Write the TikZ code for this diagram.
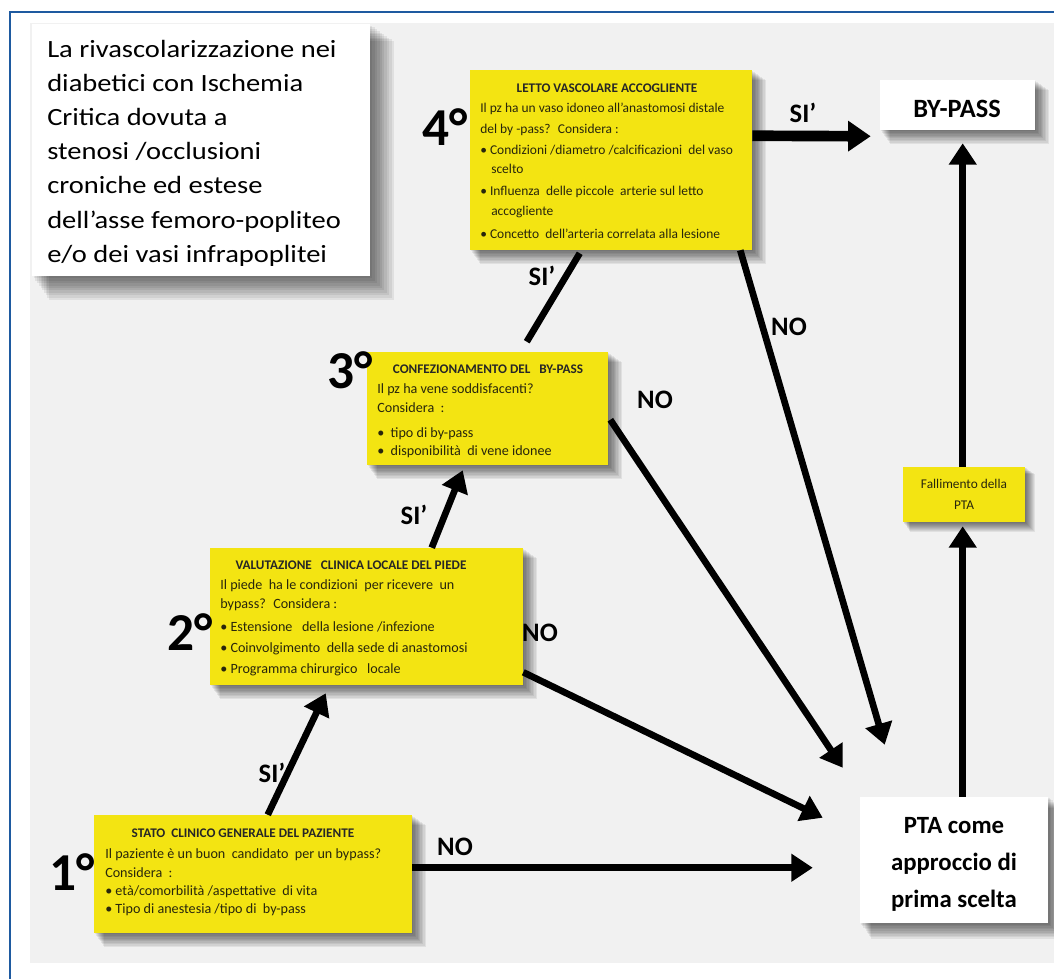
\documentclass[tikz,border=0pt]{standalone}
\usepackage{fontspec}
\setmainfont{Carlito}
\newfontfamily\widefont[FakeStretch=1.15]{Carlito}
\usetikzlibrary{arrows.meta,calc,fit}
\definecolor{bggray}{RGB}{241,241,241}
\definecolor{frameblue}{RGB}{30,90,160}
\definecolor{yel}{RGB}{243,228,18}
\definecolor{ytext}{RGB}{40,38,12}
\newcommand{\boxshadow}[5]{%
  \foreach \k in {1,...,10}{%
    \fill[black,opacity=0.065] ({#1+#5*\k/14},{#2+#5*\k/14}) rectangle ({#3+#5*\k/10},{#4+#5*\k/10});
  }}
\begin{document}
\begin{tikzpicture}[x=0.75pt,y=-0.75pt,
  ybox/.style={fill=yel,draw=none,inner sep=0pt},
  wbox/.style={fill=white,draw=none,inner sep=0pt},
  ytxt/.style={anchor=base west,inner sep=0pt,text=ytext,font=\fontsize{10.6}{12}\selectfont},
  ytxtb/.style={ytxt,font=\fontsize{10.1}{12}\selectfont},
  ytitle/.style={anchor=base,inner sep=0pt,text=black!85,font=\fontsize{9.9}{11}\bfseries\selectfont},
  lbl/.style={anchor=center,inner sep=0pt,font=\fontsize{20}{21}\bfseries\selectfont},
  deg/.style={anchor=center,inner sep=0pt,font=\fontsize{40}{42}\bfseries\selectfont},
  arr/.style={line width=5pt,-{Triangle[width=20pt,length=16pt]}},
  barr/.style={line width=8pt,-{Triangle[width=22pt,length=17pt]}},
  plain/.style={line width=5pt}]
\useasboundingbox (0,0) rectangle (1054,979);
\fill[white] (0,0) rectangle (1054,979);
\fill[bggray] (30,23) rectangle (1054,963);
\draw[frameblue,line width=2pt] (10,979) -- (10,12) -- (1054,12);

% title box
\boxshadow{32}{24}{370}{276}{24}
\node[wbox,fit={(32,24)(370,276)}] (title) {};
\foreach \t [count=\i from 0] in {La rivascolarizzazione nei,diabetici con Ischemia,Critica dovuta a,stenosi /occlusioni,croniche ed estese,dell’asse femoro-popliteo,e/o dei vasi infrapoplitei}
  \node[anchor=base west,inner sep=0pt,font=\widefont\fontsize{18.6}{20}\selectfont] at (47,{57+34.2*\i}) {\t};

% BY-PASS
\boxshadow{880}{80}{1035}{130}{14}
\node[wbox,fit={(880,80)(1035,130)}] (bp) {};
\node[anchor=base,inner sep=0pt,font=\fontsize{19.8}{20}\bfseries\selectfont] at (957,117) {BY-PASS};

% PTA
\boxshadow{860}{797}{1048}{923}{16}
\node[wbox,fit={(860,797)(1048,923)}] (pta) {};
\node[anchor=base,inner sep=0pt,font=\fontsize{18.6}{20}\bfseries\selectfont] at (954,833) {PTA come};
\node[anchor=base,inner sep=0pt,font=\fontsize{18.6}{20}\bfseries\selectfont] at (954,870) {approccio di};
\node[anchor=base,inner sep=0pt,font=\fontsize{18.6}{20}\bfseries\selectfont] at (954,907) {prima scelta};

% failure box
\boxshadow{903}{467}{1025}{522}{10}
\node[ybox,fit={(903,467)(1025,522)}] (fail) {};
\node[anchor=base,inner sep=0pt,text=ytext,font=\fontsize{10}{11}\selectfont] at (964,488) {Fallimento della};
\node[anchor=base,inner sep=0pt,text=ytext,font=\fontsize{10}{11}\selectfont] at (964,509) {PTA};

% box 4
\boxshadow{470}{70}{752}{250}{14}
\node[ybox,fit={(470,70)(752,250)}] (b4) {};
\node[ytitle] at (607,92) {LETTO VASCOLARE ACCOGLIENTE};
\node[ytxtb] at (480,112) {Il pz ha un vaso idoneo all’anastomosi distale};
\node[ytxtb] at (480,133) {del by -pass? \ Considera :};
\node[ytxtb] at (480,154) {• Condizioni /diametro /calcificazioni \ del vaso};
\node[ytxtb] at (491,173) {scelto};
\node[ytxtb] at (480,195) {• Influenza \ delle piccole \ arterie sul letto};
\node[ytxtb] at (491,215) {accogliente};
\node[ytxtb] at (480,238) {• Concetto \ dell’arteria correlata alla lesione};

% box 3
\boxshadow{367}{352}{608}{465}{14}
\node[ybox,fit={(367,352)(608,465)}] (b3) {};
\node[ytitle] at (488,373) {CONFEZIONAMENTO DEL \ \ BY-PASS};
\node[ytxt] at (377,393) {Il pz ha vene soddisfacenti?};
\node[ytxt] at (377,412) {Considera \ :};
\node[ytxt] at (377,437) {• \ tipo di by-pass};
\node[ytxt] at (377,455) {• \ disponibilità \ di vene idonee};

% box 2
\boxshadow{210}{548}{523}{685}{14}
\node[ybox,fit={(210,548)(523,685)}] (b2) {};
\node[ytitle] at (351,569) {VALUTAZIONE \ \ CLINICA LOCALE DEL PIEDE};
\node[ytxt] at (220,589) {Il piede \ ha le condizioni \ per ricevere \ un};
\node[ytxt] at (220,608) {bypass? \ Considera :};
\node[ytxt] at (220,631) {• Estensione \ \ della lesione /infezione};
\node[ytxt] at (220,652) {• Coinvolgimento \ della sede di anastomosi};
\node[ytxt] at (220,673) {• Programma chirurgico \ \ locale};

% box 1
\boxshadow{94}{815}{412}{933}{14}
\node[ybox,fit={(94,815)(412,933)}] (b1) {};
\node[ytitle] at (243,837) {STATO \ CLINICO GENERALE DEL PAZIENTE};
\node[ytxt] at (105,858) {Il paziente è un buon \ candidato \ per un bypass?};
\node[ytxt] at (105,877) {Considera \ :};
\node[ytxt] at (105,895) {• età/comorbilità /aspettative \ di vita};
\node[ytxt] at (105,913) {• Tipo di anestesia /tipo di \ by-pass};

% degree labels
\node[deg] at (72,872) {1°};
\node[deg] at (190,632) {2°};
\node[deg] at (350,370) {3°};
\node[deg] at (445,127) {4°};

% connectors
\draw[arr] ($(b1.north west)+(174,0)$) -- ($(b2.south west)+(116,8)$);
\draw[arr] ($(b2.north west)+(222,0)$) -- ($(b3.south west)+(96,5)$);
\draw[plain] ($(b3.north west)+(160,-10)$) -- ($(b4.south west)+(110,3)$);
\draw[barr] ($(b4.north east)+(0,66)$) -- ($(bp.south west)+(-9,6)$);
\draw[arr] ($(b1.north east)+(0,53)$) -- ($(pta.north west)+(-47,71)$);
\draw[arr] ($(b2.south east)+(0,-13)$) -- ($(pta.north west)+(-37,21)$);
\draw[arr] ($(b3.north east)+(2,68)$) -- ($(pta.north west)+(-17,-29)$);
\draw[arr] ($(b4.south east)+(-12,0)$) -- ($(pta.north west)+(25,-52)$);
\draw[arr] ($(pta.north west)+(103,0)$) -- ($(fail.south west)+(60,4)$);
\draw[arr] ($(fail.north west)+(60,0)$) -- ($(bp.south west)+(83,13)$);

% connector labels
\node[lbl] at (803,113) {SI’};
\node[lbl] at (542,276) {SI’};
\node[lbl] at (414,515) {SI’};
\node[lbl] at (272,773) {SI’};
\node[lbl] at (455,847) {NO};
\node[lbl] at (540,633) {NO};
\node[lbl] at (655,400) {NO};
\node[lbl] at (789,327) {NO};
\end{tikzpicture}
\end{document}
